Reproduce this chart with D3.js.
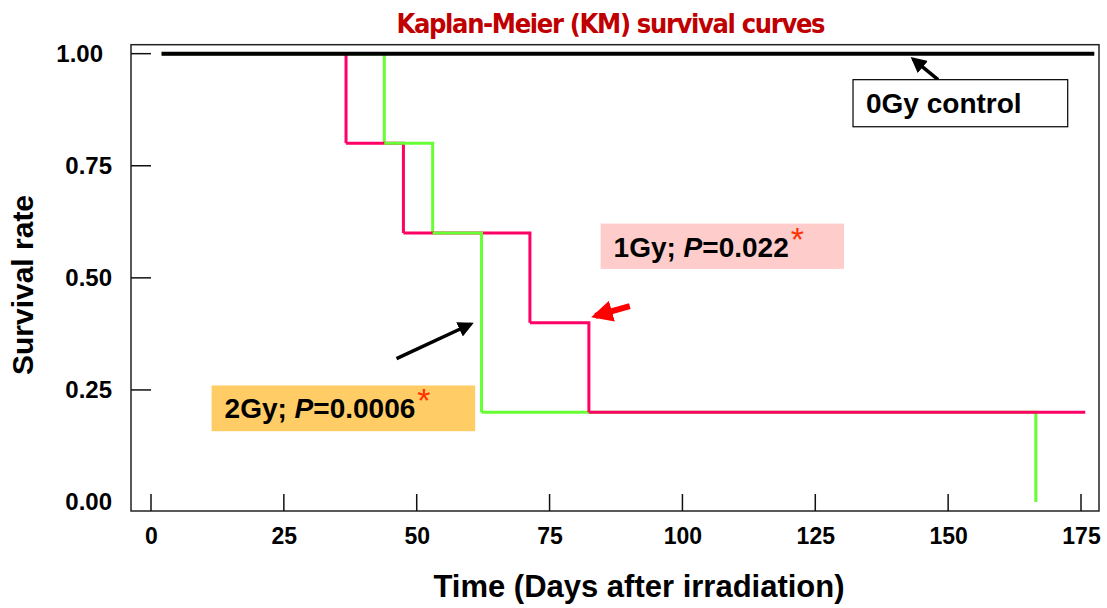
<!DOCTYPE html>
<html>
<head>
<meta charset="utf-8">
<script src="https://cdn.jsdelivr.net/npm/d3@7"></script>
<style>
  body { margin: 0; background: #fff; }
  text { font-family: "Liberation Sans", Arial, sans-serif; }
</style>
</head>
<body>
<div id="chart"></div>
<script>
// step curves: survival value holds from time[i] until time[i+1]
var timeCtrl = [2, 177.5];
var survCtrl = [1, 1];
var time1Gy = [2, 36.7, 47.5, 71.3, 82.4, 175.8];
var surv1Gy = [1, 0.8, 0.6, 0.4, 0.2, 0.2];
var time2Gy = [2, 43.9, 53.0, 62.2, 166.5];
var surv2Gy = [1, 0.8, 0.6, 0.2, 0];

var xTicks = [0, 25, 50, 75, 100, 125, 150, 175];
var yTicks = [0, 0.25, 0.5, 0.75, 1];

function init(){
    var w = 1107, h = 608;
    var left = 131, right = 1099, top = 44.7, bottom = 511;

    var svg = d3.select("#chart").append("svg")
                .attr("width", w)
                .attr("height", h);

    var x = d3.scaleLinear().domain([0, 175]).range([151, 1081]);
    var y = d3.scaleLinear().domain([-0.02, 1.02]).range([bottom, top]);

    // title
    svg.append("text")
        .attr("x", 611).attr("y", 33)
        .attr("text-anchor", "middle")
        .attr("textLength", 429).attr("lengthAdjust", "spacing")
        .style("font-family", "'Liberation Sans Narrow', 'DejaVu Sans Condensed', sans-serif")
        .style("font-size", "27px").style("font-weight", "bold")
        .attr("fill", "#c00000")
        .text("Kaplan-Meier (KM) survival curves");

    // frame
    svg.append("rect")
        .attr("x", left).attr("y", top)
        .attr("width", right - left).attr("height", bottom - top)
        .attr("fill", "none").attr("stroke", "#222").attr("stroke-width", 1.5);

    // axes labels (no outer tick marks, ticks drawn inside)
    var yAxis = svg.append("g")
        .attr("transform", "translate(" + left + ",0)")
        .call(d3.axisLeft(y).tickValues(yTicks).tickSize(0).tickPadding(19)
              .tickFormat(d3.format(".2f")));
    var xAxis = svg.append("g")
        .attr("transform", "translate(0," + bottom + ")")
        .call(d3.axisBottom(x).tickValues(xTicks).tickSize(0).tickPadding(17));
    [yAxis, xAxis].forEach(function(g){
        g.select(".domain").remove();
        g.selectAll("text")
            .style("font-family", "'Liberation Sans', Arial, sans-serif")
            .style("font-weight", "bold")
            .attr("fill", "#000");
    });
    yAxis.selectAll("text").style("font-size", "24px")
        .attr("dx", function(d){ return d === 1 ? -9 : 0; });
    xAxis.selectAll("text").style("font-size", "23px");

    svg.selectAll(".ytick").data(yTicks.filter(function(d){ return d > 0; }))
        .enter().append("line")
        .attr("x1", left).attr("x2", left + 20)
        .attr("y1", function(d){ return y(d); }).attr("y2", function(d){ return y(d); })
        .attr("stroke", "#111").attr("stroke-width", 1.5);
    svg.selectAll(".xtick").data(xTicks)
        .enter().append("line")
        .attr("x1", function(d){ return x(d); }).attr("x2", function(d){ return x(d); })
        .attr("y1", bottom).attr("y2", bottom - 17)
        .attr("stroke", "#111").attr("stroke-width", 1.5);

    // axis titles
    svg.append("text")
        .attr("transform", "translate(33,285) rotate(-90)")
        .attr("text-anchor", "middle")
        .style("font-size", "30px").style("font-weight", "bold")
        .text("Survival rate");
    svg.append("text")
        .attr("x", 639).attr("y", 597)
        .attr("text-anchor", "middle")
        .style("font-size", "31px").style("font-weight", "bold")
        .text("Time (Days after irradiation)");

    // build steps (horizontal run + following drop), later steps drawn on top
    function steps(times, surv, color){
        var out = [];
        for (var i = 0; i < times.length - 1; i++) {
            var pts = [[times[i], surv[i]], [times[i+1], surv[i]]];
            if (surv[i+1] !== surv[i]) pts.push([times[i+1], surv[i+1]]);
            out.push({start: times[i], pts: pts, color: color});
        }
        return out;
    }
    var all = steps(time1Gy, surv1Gy, "#ff0066")
        .concat(steps(time2Gy, surv2Gy, "#66ff33"));
    all.sort(function(a, b){ return a.start - b.start; });

    var line = d3.line()
        .x(function(d){ return x(d[0]); })
        .y(function(d){ return y(d[1]); });

    svg.selectAll(".step").data(all)
        .enter().append("path")
        .attr("d", function(d){ return line(d.pts); })
        .attr("fill", "none")
        .attr("stroke", function(d){ return d.color; })
        .attr("stroke-width", 3);

    // control line on top
    svg.append("path")
        .attr("d", line(timeCtrl.map(function(t, i){ return [t, survCtrl[i]]; })))
        .attr("fill", "none").attr("stroke", "#000").attr("stroke-width", 4);

    // arrows
    var defs = svg.append("defs");
    function marker(id, color, size){
        defs.append("marker")
            .attr("id", id).attr("viewBox", "0 0 10 10")
            .attr("refX", 8).attr("refY", 5)
            .attr("markerWidth", size).attr("markerHeight", size)
            .attr("markerUnits", "strokeWidth")
            .attr("orient", "auto")
            .append("path").attr("d", "M0,0 L10,5 L0,10 z").attr("fill", color);
    }
    marker("headBlack", "#000", 4.5);
    marker("headRed", "#ff0000", 3.6);

    function arrow(x1, y1, x2, y2, color, width, id){
        svg.append("line")
            .attr("x1", x(x1)).attr("y1", y(y1))
            .attr("x2", x(x2)).attr("y2", y(y2))
            .attr("stroke", color).attr("stroke-width", width)
            .attr("marker-end", "url(#" + id + ")");
    }
    arrow(148.1, 0.942, 143.4, 0.988, "#000", 3.5, "headBlack");
    arrow(90.1, 0.437, 83.6, 0.415, "#ff0000", 6, "headRed");
    arrow(46.2, 0.32, 60.2, 0.397, "#000", 3.5, "headBlack");

    // annotation boxes
    function label(x0, x1, s0, s1, fill, stroke, parts){
        var bx = x(x0), by = y(s0);
        svg.append("rect")
            .attr("x", bx).attr("y", by)
            .attr("width", x(x1) - bx).attr("height", y(s1) - by)
            .attr("fill", fill)
            .attr("stroke", stroke || "none").attr("stroke-width", 1.2);
        var t = svg.append("text")
            .attr("x", bx + 13).attr("y", by + 33)
            .style("font-size", "28px").style("font-weight", "bold");
        parts.forEach(function(p){
            var s = t.append("tspan").text(p.text);
            if (p.italic) s.style("font-style", "italic");
            if (p.star) {
                s.attr("fill", "#ff3300").attr("dy", -6).attr("dx", 2)
                 .style("font-weight", "normal").style("font-size", "34px");
            }
        });
    }
    label(132.1, 172.5, 0.942, 0.837, "#fff", "#000",
          [{text: "0Gy control"}]);
    label(84.6, 130.4, 0.621, 0.52, "#ffcccc", null,
          [{text: "1Gy; "}, {text: "P", italic: true}, {text: "=0.022"}, {text: "*", star: true}]);
    label(11.4, 61.0, 0.26, 0.158, "#ffcc66", null,
          [{text: "2Gy; "}, {text: "P", italic: true}, {text: "=0.0006"}, {text: "*", star: true}]);
}
window.onload = init;
</script>
</body>
</html>
